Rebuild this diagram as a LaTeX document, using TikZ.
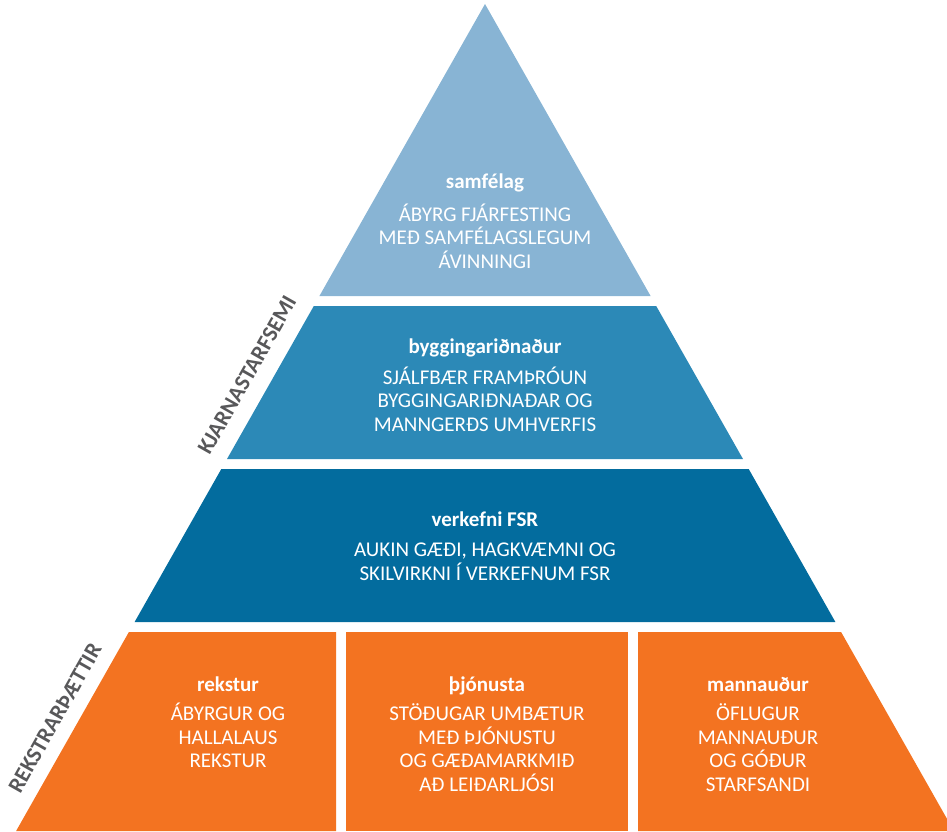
\documentclass[tikz,border=0pt]{standalone}
\usepackage{fontspec}
\setmainfont{Carlito}
\usetikzlibrary{positioning}
\definecolor{tierA}{HTML}{88B4D4}
\definecolor{tierB}{HTML}{2C89B7}
\definecolor{tierC}{HTML}{036C9E}
\definecolor{tierD}{HTML}{F37321}
\definecolor{sidegray}{HTML}{58585A}

\begin{document}
\begin{tikzpicture}[x=1pt,y=-1pt,
    tiertext/.style={text=white, align=center, font=\fontsize{21}{23.5}\selectfont},
    sidelabel/.style={text=sidegray, rotate=60.5, inner sep=0pt, font=\fontsize{22.5}{24}\selectfont\bfseries}]

    \useasboundingbox (0,0) rectangle (947,831);
    \clip (0,0) rectangle (947,831);

    % pyramid tiers
    \fill[tierA] (485,4) -- (650.6,296) -- (319.4,296) -- cycle;
    \fill[tierB] (313.8,306) -- (656.2,306) -- (743.0,459) -- (227.0,459) -- cycle;
    \fill[tierC] (221.3,469) -- (748.7,469) -- (835.4,622) -- (134.6,622) -- cycle;
    \fill[tierD] (128.9,632) -- (336,632) -- (336,831) -- (16.1,831) -- cycle;
    \fill[tierD] (346,632) rectangle (628,831);
    \fill[tierD] (638,632) -- (841.1,632) -- (953.9,831) -- (638,831) -- cycle;

    % texts
    \node[tiertext] (samfelag) at (485,221) {{\bfseries samfélag}\\[9pt]ÁBYRG FJÁRFESTING\\MEÐ SAMFÉLAGSLEGUM\\ÁVINNINGI};
    \node[tiertext] (bygging) at (485,385) {{\bfseries byggingariðnaður}\\[7pt]SJÁLFBÆR FRAMÞRÓUN\\BYGGINGARIÐNAÐAR OG\\MANNGERÐS UMHVERFIS};
    \node[tiertext] (verkefni) at (485,546) {{\bfseries verkefni FSR}\\[7pt]AUKIN GÆÐI, HAGKVÆMNI OG\\SKILVIRKNI Í VERKEFNUM FSR};
    \node[tiertext] (rekstur) at (228,722) {{\bfseries rekstur}\\[6pt]ÁBYRGUR OG\\HALLALAUS\\REKSTUR};
    \node[tiertext] (thjonusta) at (487,734) {{\bfseries þjónusta}\\[6pt]STÖÐUGAR UMBÆTUR\\MEÐ ÞJÓNUSTU\\OG GÆÐAMARKMIÐ\\AÐ LEIÐARLJÓSI};
    \node[tiertext] (mannaudur) at (758,734) {{\bfseries mannauður}\\[6pt]ÖFLUGUR\\MANNAUÐUR\\OG GÓÐUR\\STARFSANDI};

    % side labels
    \node[sidelabel] (kjarna) at (247,375) {KJARNASTARFSEMI};
    \node[sidelabel] (rekstrar) at (55,718) {REKSTRARÞÆTTIR};

\end{tikzpicture}
\end{document}
